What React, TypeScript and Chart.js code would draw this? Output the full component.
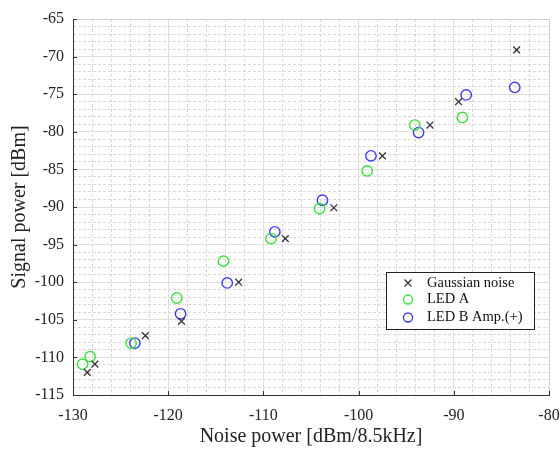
import React, { useEffect, useRef } from "react";
import { Chart, registerables } from "chart.js";

Chart.register(...registerables);

const gaussX = [-128.5, -127.7, -122.4, -118.6, -112.6, -107.7, -102.6, -97.5, -92.5, -89.5, -83.4];
const gaussY = [-112.0, -110.9, -107.1, -105.2, -100.0, -94.2, -90.1, -83.2, -79.1, -76.0, -69.1];

const ledAX = [-129.0, -128.2, -123.9, -119.1, -114.2, -109.2, -104.1, -99.1, -94.1, -89.1];
const ledAY = [-110.9, -109.9, -108.1, -102.1, -97.2, -94.2, -90.2, -85.2, -79.1, -78.1];

const ledBX = [-123.5, -118.7, -113.8, -108.8, -103.8, -98.7, -93.7, -88.7, -83.6];
const ledBY = [-108.1, -104.2, -100.1, -93.3, -89.1, -83.2, -80.1, -75.1, -74.1];

const seriesLabels = ["Gaussian noise", "LED A", "LED B Amp.(+)"];
const seriesColors = ["#333333", "rgb(60,225,60)", "rgb(60,60,240)"];
const seriesStyles = ["crossRot", "circle", "circle"];

const xMin = -130, xMax = -80, xMajor = 10, xMinor = 2;
const yMin = -115, yMax = -65, yMajor = 5, yMinor = 1;

const xTitle = "Noise power [dBm/8.5kHz]";
const yTitle = "Signal power [dBm]";

const FONT = "'Liberation Serif', 'Times New Roman', serif";

function pts(xs: number[], ys: number[]) {
  return xs.map((x, i) => ({ x, y: ys[i] }));
}

const legendPlugin = {
  id: "insideLegend",
  afterDatasetsDraw(chart: any) {
    const { ctx, chartArea } = chart;
    const w = 148, h = 57;
    const x0 = chartArea.right - 15 - w;
    const y0 = chartArea.top + 253;
    ctx.save();
    ctx.fillStyle = "#ffffff";
    ctx.fillRect(x0, y0, w, h);
    ctx.strokeStyle = "#222";
    ctx.lineWidth = 1;
    ctx.strokeRect(x0 + 0.5, y0 + 0.5, w, h);
    ctx.font = `14.5px ${FONT}`;
    ctx.textBaseline = "middle";
    const rows = [11, 27.5, 45.5];
    seriesLabels.forEach((lab, i) => {
      const cy = y0 + rows[i];
      const cx = x0 + 22;
      ctx.strokeStyle = seriesColors[i];
      ctx.lineWidth = 1.3;
      ctx.beginPath();
      if (seriesStyles[i] === "crossRot") {
        const r = 3.5;
        ctx.moveTo(cx - r, cy - r);
        ctx.lineTo(cx + r, cy + r);
        ctx.moveTo(cx + r, cy - r);
        ctx.lineTo(cx - r, cy + r);
      } else {
        ctx.arc(cx, cy, 4.5, 0, Math.PI * 2);
      }
      ctx.stroke();
      ctx.fillStyle = "#111";
      ctx.fillText(lab, x0 + 41, cy);
    });
    ctx.restore();
  },
};

const axesPlugin = {
  id: "innerTicks",
  afterDatasetsDraw(chart: any) {
    const { ctx, chartArea } = chart;
    const xs = chart.scales.x;
    const ys = chart.scales.y;
    ctx.save();
    ctx.strokeStyle = "#d0d0d0";
    ctx.lineWidth = 1;
    ctx.beginPath();
    ctx.moveTo(chartArea.left, chartArea.top + 0.5);
    ctx.lineTo(chartArea.right + 0.5, chartArea.top + 0.5);
    ctx.lineTo(chartArea.right + 0.5, chartArea.bottom);
    ctx.stroke();
    ctx.strokeStyle = "#333";
    ctx.beginPath();
    for (let v = xMin; v <= xMax; v += xMajor) {
      const p = Math.round(xs.getPixelForValue(v)) + 0.5;
      ctx.moveTo(p, chartArea.bottom);
      ctx.lineTo(p, chartArea.bottom - 4);
    }
    for (let v = yMin; v <= yMax; v += yMajor) {
      const p = Math.round(ys.getPixelForValue(v)) + 0.5;
      ctx.moveTo(chartArea.left, p);
      ctx.lineTo(chartArea.left + 4, p);
    }
    ctx.stroke();
    ctx.restore();
  },
};

const noPad = (s: any) => {
  s.paddingLeft = 0;
  s.paddingRight = 0;
  s.paddingTop = 0;
  s.paddingBottom = 0;
};

export default function App() {
  const ref = useRef<HTMLCanvasElement | null>(null);
  useEffect(() => {
    if (!ref.current) return;
    const chart = new Chart(ref.current, {
      type: "scatter",
      data: {
        datasets: [
          {
            label: seriesLabels[0],
            data: pts(gaussX, gaussY),
            pointStyle: "crossRot",
            pointRadius: 4.8,
            borderColor: seriesColors[0],
            backgroundColor: seriesColors[0],
            pointBorderWidth: 1.3,
          },
          {
            label: seriesLabels[1],
            data: pts(ledAX, ledAY),
            pointStyle: "circle",
            pointRadius: 5.2,
            borderColor: seriesColors[1],
            backgroundColor: "rgba(0,0,0,0)",
            pointBorderWidth: 1.4,
          },
          {
            label: seriesLabels[2],
            data: pts(ledBX, ledBY),
            pointStyle: "circle",
            pointRadius: 5.2,
            borderColor: seriesColors[2],
            backgroundColor: "rgba(0,0,0,0)",
            pointBorderWidth: 1.4,
          },
        ],
      },
      options: {
        animation: false,
        responsive: false,
        maintainAspectRatio: false,
        layout: { padding: { top: 19, right: 11, left: 0, bottom: 0 } },
        plugins: { legend: { display: false }, tooltip: { enabled: false } },
        scales: {
          xm: {
            type: "linear",
            position: "bottom",
            min: xMin,
            max: xMax,
            ticks: { display: false, stepSize: xMinor },
            grid: { color: "rgba(195,175,180,0.5)", lineWidth: 1, drawTicks: false },
            border: { display: false, dash: [3, 2] },
            afterFit: (s: any) => { s.height = 0; noPad(s); },
          },
          ym: {
            type: "linear",
            position: "left",
            min: yMin,
            max: yMax,
            ticks: { display: false, stepSize: yMinor },
            grid: { color: "rgba(195,175,180,0.5)", lineWidth: 1, drawTicks: false },
            border: { display: false, dash: [3, 2] },
            afterFit: (s: any) => { s.width = 0; noPad(s); },
          },
          x: {
            type: "linear",
            position: "bottom",
            min: xMin,
            max: xMax,
            ticks: {
              stepSize: xMajor,
              color: "#222",
              font: { family: FONT, size: 16 },
              padding: 11,
              maxRotation: 0,
            },
            grid: { color: "#dedede", lineWidth: 1, drawTicks: false },
            border: { display: true, color: "#333", width: 1 },
            title: {
              display: true,
              text: xTitle,
              color: "#222",
              font: { family: FONT, size: 20 },
              padding: { top: 1, bottom: 0 },
            },
            afterFit: (s: any) => { s.height = 54; noPad(s); },
          },
          y: {
            type: "linear",
            position: "left",
            min: yMin,
            max: yMax,
            ticks: {
              stepSize: yMajor,
              color: "#222",
              font: { family: FONT, size: 16 },
              padding: 9,
            },
            grid: { color: "#dedede", lineWidth: 1, drawTicks: false },
            border: { display: true, color: "#333", width: 1 },
            title: {
              display: true,
              text: yTitle,
              color: "#222",
              font: { family: FONT, size: 20 },
              padding: { top: 8, bottom: 0 },
            },
            afterFit: (s: any) => { s.width = 73; noPad(s); },
          },
        },
      },
      plugins: [axesPlugin, legendPlugin],
    } as any);
    return () => chart.destroy();
  }, []);
  return (
    <div style={{ position: "fixed", left: 0, top: 0, width: 560, height: 449, background: "#fff" }}>
      <canvas ref={ref} width={560} height={449} style={{ width: 560, height: 449 }} />
    </div>
  );
}
